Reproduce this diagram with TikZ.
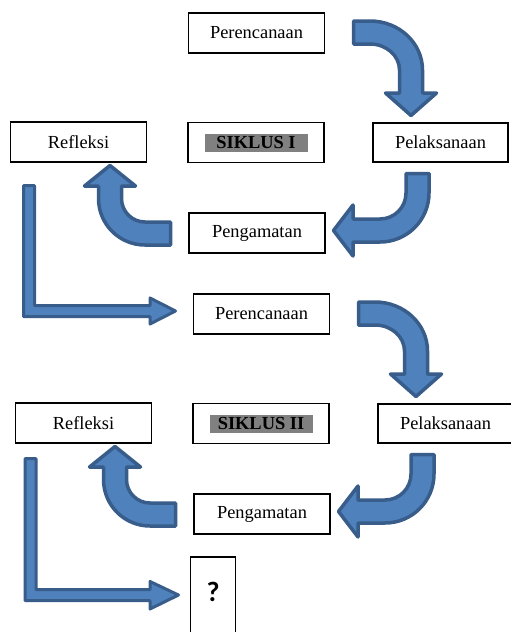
\documentclass[tikz,border=0pt]{standalone}
\usepackage{fontspec}
\setmainfont{Liberation Serif}
\newfontfamily\qfont{Carlito}
\definecolor{arrowfill}{HTML}{4F81BD}
\definecolor{arrowline}{HTML}{385D8A}
\definecolor{siklusgray}{HTML}{808080}
\tikzset{
  stepbox/.style={draw, line width=1.6pt, minimum width=136pt, minimum height=40pt, inner sep=0pt, font=\fontsize{18.4}{22}\selectfont},
  siklusmark/.style={fill=siklusgray, minimum width=103pt, minimum height=18pt, inner sep=0pt, font=\fontsize{18.4}{22}\selectfont\bfseries},
  blockarrow/.style={fill=arrowfill, draw=arrowline, line width=3.5pt, line join=round},
}
\begin{document}
\begin{tikzpicture}[x=1pt, y=-1pt]
\path[use as bounding box, fill=white] (0,0) rectangle (511,632);

\foreach \c/\dx/\dy in {I/0/0, II/5/281}{
  \begin{scope}[shift={(\dx,\dy)}]
    \node[stepbox] (per\c) at (256.5,33) {Perencanaan};
    \node[stepbox, minimum width=135pt, minimum height=39pt] (pel\c) at (440.5,142.5) {Pelaksanaan};
    \node[stepbox] (ref\c) at (78.5,142) {Refleksi};
    \node[stepbox] (sik\c) at (256,142.5) {};
    \node[siklusmark] (sikmark\c) at (sik\c) {SIKLUS \c};
    \node[stepbox] (pen\c) at (257,233) {Pengamatan};

    \path[blockarrow] (353.5,21) -- (370,21)
      arc[start angle=-90, end angle=0, x radius=52.5, y radius=49]
      -- (422.5,93) -- (436.5,93) -- (411,115.5) -- (385.5,93) -- (399.5,93) -- (399.5,70)
      arc[start angle=0, end angle=-90, x radius=29.5, y radius=26]
      -- (353.5,44) -- cycle;
    \path[blockarrow] (406,173.5) -- (429,173.5) -- (429,193)
      arc[start angle=0, end angle=90, radius=49]
      -- (353,242) -- (353,256) -- (333.5,230.5) -- (353,205) -- (353,219) -- (380,219)
      arc[start angle=90, end angle=0, radius=26] -- cycle;
    \path[blockarrow] (170.5,222) -- (145,222)
      arc[start angle=90, end angle=180, radius=23.5]
      -- (121.5,186) -- (135.5,186) -- (110,165.5) -- (84.5,186) -- (98.5,186) -- (98.5,198.5)
      arc[start angle=180, end angle=90, radius=46.5]
      -- (170.5,245) -- cycle;
  \end{scope}
}

\node[draw, line width=1.6pt, minimum width=45pt, minimum height=80pt, inner sep=0pt,
  font=\qfont\bfseries\fontsize{28}{30}\selectfont] (next) at (213,597) {\raisebox{10pt}{?}};

\path[blockarrow, line width=3pt] (23.5,185.5) -- (34.5,185.5) -- (34.5,305.5) -- (150,305.5)
  -- (150,298) -- (175.5,311) -- (150,324) -- (150,316.5) -- (23.5,316.5) -- cycle;
\path[blockarrow, line width=3pt] (25,458.5) -- (36,458.5) -- (36,589.5) -- (150,589.5)
  -- (150,581.5) -- (178.5,595) -- (150,609) -- (150,600.5) -- (25,600.5) -- cycle;
\end{tikzpicture}
\end{document}
